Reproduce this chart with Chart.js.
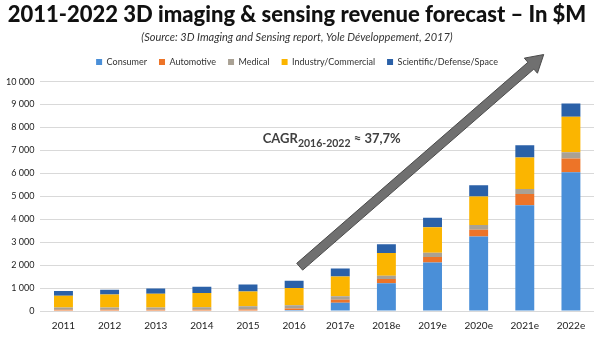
<!DOCTYPE html>
<html>
<head>
<meta charset="utf-8">
<script src="https://cdn.jsdelivr.net/npm/chart.js@4"></script>
<style>
  html, body { margin: 0; padding: 0; background: #fff; }
  #wrap { width: 600px; height: 339px; }
</style>
</head>
<body>
<div id="wrap"><canvas id="revenue"></canvas></div>
<script>
// revenue by segment, $M
const years = ['2011', '2012', '2013', '2014', '2015', '2016', '2017e', '2018e', '2019e', '2020e', '2021e', '2022e'];
const consumer   = [20, 20, 20, 20, 25, 40, 365, 1205, 2115, 3245, 4605, 6050];
const automotive = [30, 30, 30, 35, 40, 70, 130, 190, 235, 295, 495, 600];
const medical    = [100, 100, 100, 105, 140, 140, 145, 145, 190, 205, 220, 265];
const industry   = [520, 570, 600, 630, 650, 750, 865, 985, 1115, 1250, 1375, 1550];
const scientific = [200, 210, 230, 265, 305, 320, 350, 380, 410, 485, 525, 585];

const yTicks = [0, 1000, 2000, 3000, 4000, 5000, 6000, 7000, 8000, 9000, 10000];

// growth arrow, in axis units (category index, $M)
const arrowFrom = { x: 5.12, y: 1930 };
const arrowTo = { x: 10.41, y: 11180 };
const cagrAt = { x: 4.32, y: 7320 };

const FONT = "Lato, 'Open Sans', sans-serif";

// extra room between the legend and the plot
const legendGap = {
    id: 'legendGap',
    beforeInit(chart) {
        const fit = chart.legend.fit;
        chart.legend.fit = function () {
            fit.call(this);
            this.height += 5;
        };
    }
};

const growthArrow = {
    id: 'growthArrow',
    afterDatasetsDraw(chart) {
        const ctx = chart.ctx;
        const xs = chart.scales.x, ys = chart.scales.y;
        const x1 = xs.getPixelForValue(arrowFrom.x), y1 = ys.getPixelForValue(arrowFrom.y);
        const x2 = xs.getPixelForValue(arrowTo.x), y2 = ys.getPixelForValue(arrowTo.y);
        const ang = Math.atan2(y2 - y1, x2 - x1);
        const headLen = 17, headHalf = 10, shaft = 4.5;
        const bx = x2 - headLen * Math.cos(ang), by = y2 - headLen * Math.sin(ang);
        const px = -Math.sin(ang), py = Math.cos(ang);

        ctx.save();
        ctx.beginPath();
        ctx.moveTo(x1 + px * shaft, y1 + py * shaft);
        ctx.lineTo(bx + px * shaft, by + py * shaft);
        ctx.lineTo(bx + px * headHalf, by + py * headHalf);
        ctx.lineTo(x2, y2);
        ctx.lineTo(bx - px * headHalf, by - py * headHalf);
        ctx.lineTo(bx - px * shaft, by - py * shaft);
        ctx.lineTo(x1 - px * shaft, y1 - py * shaft);
        ctx.closePath();
        ctx.fillStyle = '#707070';
        ctx.strokeStyle = '#4a4a4a';
        ctx.lineWidth = 1;
        ctx.fill();
        ctx.stroke();

        // CAGR label with subscript
        let tx = xs.getPixelForValue(cagrAt.x);
        const ty = ys.getPixelForValue(cagrAt.y);
        ctx.fillStyle = '#404040';
        ctx.textBaseline = 'alphabetic';
        ctx.textAlign = 'left';
        ctx.font = 'bold 13px ' + FONT;
        ctx.fillText('CAGR', tx, ty);
        tx += ctx.measureText('CAGR').width;
        ctx.font = 'bold 10.5px ' + FONT;
        ctx.fillText('2016-2022', tx, ty + 4);
        tx += ctx.measureText('2016-2022').width;
        ctx.font = 'bold 13px ' + FONT;
        ctx.fillText(' \u2248 37,7%', tx, ty);
        ctx.restore();
    }
};

function fmtThousands(v) {
    return String(v).replace(/\B(?=(\d{3})+(?!\d))/g, ' ');
}

const series = [
    { label: 'Consumer', data: consumer, color: '#4a8fd8' },
    { label: 'Automotive', data: automotive, color: '#ed7428' },
    { label: 'Medical', data: medical, color: '#a9a194' },
    { label: 'Industry/Commercial', data: industry, color: '#fbb500' },
    { label: 'Scientific/Defense/Space', data: scientific, color: '#2b61a8' }
];

new Chart(document.getElementById('revenue'), {
    type: 'bar',
    data: {
        labels: years,
        datasets: series.map(s => ({
            label: s.label,
            data: s.data,
            backgroundColor: s.color,
            borderWidth: 0,
            categoryPercentage: 1,
            barPercentage: 0.41
        }))
    },
    options: {
        responsive: true,
        maintainAspectRatio: false,
        animation: false,
        layout: { padding: { left: 0, right: 6, top: 0, bottom: 6 } },
        plugins: {
            title: {
                display: true,
                text: '2011-2022 3D imaging & sensing revenue forecast \u2013 In $M',
                color: '#111',
                font: { family: FONT, size: 22, weight: '900' },
                padding: { top: 2, bottom: 0 }
            },
            subtitle: {
                display: true,
                text: '(Source: 3D Imaging and Sensing report, Yole D\u00e9veloppement, 2017)',
                color: '#333',
                font: { family: FONT, size: 11, style: 'italic' },
                padding: { top: 2, bottom: 2 }
            },
            legend: {
                position: 'top',
                labels: {
                    boxWidth: 6,
                    boxHeight: 6,
                    padding: 12,
                    color: '#333',
                    font: { family: FONT, size: 9 }
                }
            },
            tooltip: { enabled: false }
        },
        scales: {
            x: {
                stacked: true,
                grid: { display: false },
                border: { display: false },
                ticks: { color: '#222', font: { family: FONT, size: 10 }, padding: 1 }
            },
            y: {
                stacked: true,
                min: 0,
                max: 10000,
                afterBuildTicks(axis) { axis.ticks = yTicks.map(v => ({ value: v })); },
                grid: { color: '#d9d9d9', drawTicks: false },
                border: { display: false },
                ticks: {
                    color: '#222',
                    font: { family: FONT, size: 9 },
                    padding: 6,
                    callback: v => fmtThousands(v)
                }
            }
        }
    },
    plugins: [legendGap, growthArrow]
});
</script>
</body>
</html>
